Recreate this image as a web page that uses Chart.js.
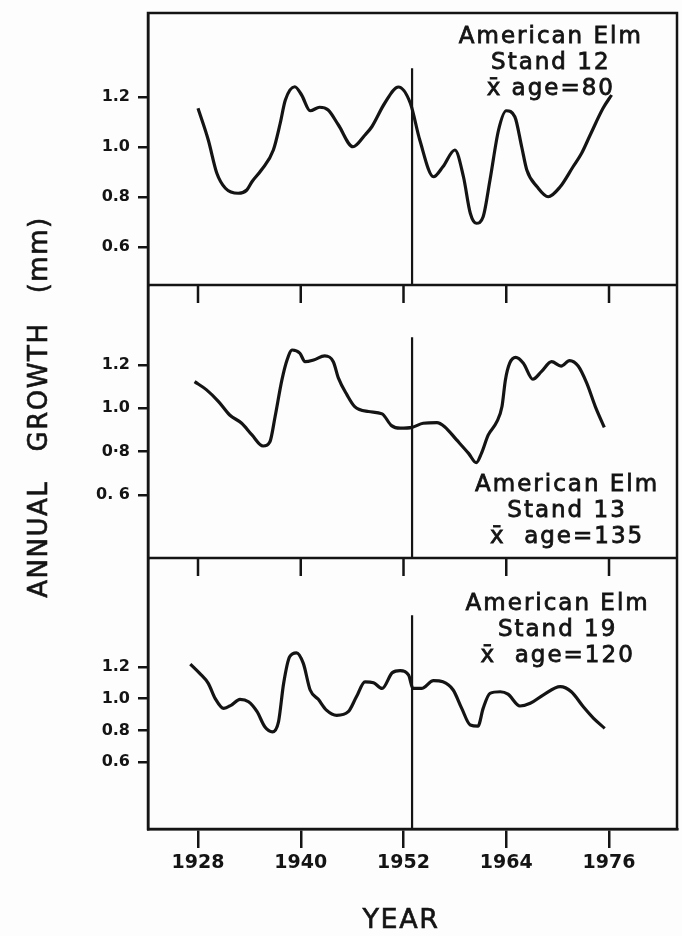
<!DOCTYPE html>
<html>
<head>
<meta charset="utf-8">
<title>American Elm annual growth</title>
<script src="https://cdn.jsdelivr.net/npm/chart.js@4.4.1/dist/chart.umd.min.js"></script>
<style>
  html, body { margin: 0; padding: 0; background: #fdfdfd; }
  #wrap { position: relative; width: 682px; height: 936px; }
</style>
</head>
<body>
<div id="wrap"><canvas id="growthChart" width="682" height="936"></canvas></div>
<script>
// smoothed ring-width curves, one per stand (year, mm)
const stand12Years = [1928.0, 1929.2, 1930.2, 1931.2, 1932.7, 1933.7, 1934.3, 1935.4, 1936.8, 1937.6,
  1938.2, 1939.3, 1940.1, 1941.1, 1942.2, 1943.2, 1944.4, 1946.1, 1947.5, 1948.3, 1949.8, 1951.4,
  1952.8, 1953.9, 1955.5, 1956.6, 1958.0, 1959.0, 1959.8, 1960.5, 1961.3, 1962.1, 1963.1, 1964.0,
  1965.0, 1965.8, 1966.4, 1967.6, 1968.9, 1970.3, 1971.8, 1972.8, 1973.8, 1975.3, 1976.3];
const stand12Growth = [1.155, 1.028, 0.895, 0.835, 0.815, 0.828, 0.861, 0.908, 0.988, 1.095,
  1.188, 1.241, 1.208, 1.145, 1.159, 1.148, 1.088, 1.001, 1.048, 1.081, 1.175, 1.240,
  1.175, 1.028, 0.881, 0.921, 0.988, 0.881, 0.735, 0.695, 0.721, 0.868, 1.068, 1.145,
  1.121, 1.001, 0.908, 0.841, 0.801, 0.841, 0.921, 0.975, 1.048, 1.155, 1.208];

const stand13Years = [1927.6, 1929.0, 1930.4, 1931.7, 1933.1, 1934.3, 1935.6, 1936.4, 1937.0, 1937.8,
  1938.4, 1939.0, 1939.9, 1940.5, 1941.5, 1942.8, 1943.8, 1944.4, 1945.4, 1946.3, 1947.9, 1949.5,
  1950.6, 1951.6, 1953.0, 1954.3, 1955.9, 1956.8, 1958.2, 1959.6, 1960.5, 1961.1, 1961.9, 1962.9,
  1963.5, 1963.9, 1964.4, 1965.1, 1966.0, 1967.1, 1968.1, 1969.3, 1970.4, 1971.4, 1972.4, 1973.4,
  1974.4, 1975.45];
const stand13Growth = [1.123, 1.085, 1.031, 0.969, 0.931, 0.877, 0.826, 0.846, 0.961, 1.131,
  1.223, 1.269, 1.254, 1.215, 1.223, 1.242, 1.215, 1.139, 1.062, 1.008, 0.985, 0.974,
  0.920, 0.908, 0.912, 0.931, 0.934, 0.915, 0.854, 0.792, 0.749, 0.792, 0.877, 0.938,
  1.008, 1.131, 1.208, 1.235, 1.208, 1.134, 1.169, 1.215, 1.195, 1.220, 1.195, 1.116,
  1.008, 0.912];

const stand19Years = [1927.1, 1928.2, 1929.2, 1930.0, 1931.0, 1931.9, 1932.9, 1933.9, 1934.9, 1935.8,
  1936.7, 1937.4, 1938.0, 1938.7, 1939.5, 1940.3, 1941.1, 1942.05, 1943.0, 1944.2, 1945.55, 1946.5,
  1947.5, 1948.5, 1949.5, 1950.7, 1951.6, 1952.6, 1953.1, 1954.1, 1955.5, 1956.6, 1957.8, 1958.8,
  1959.8, 1960.7, 1961.3, 1962.1, 1963.3, 1964.2, 1965.6, 1966.8, 1968.3, 1970.3, 1971.6, 1973.0,
  1974.2, 1975.5];
const stand19Growth = [1.219, 1.160, 1.097, 1.002, 0.939, 0.960, 0.996, 0.981, 0.918, 0.823,
  0.791, 0.854, 1.097, 1.265, 1.290, 1.223, 1.055, 0.996, 0.928, 0.895, 0.918, 1.012,
  1.107, 1.101, 1.065, 1.165, 1.177, 1.149, 1.065, 1.065, 1.114, 1.107, 1.055, 0.939,
  0.834, 0.827, 0.939, 1.034, 1.044, 1.029, 0.954, 0.971, 1.023, 1.076, 1.044, 0.949,
  0.876, 0.813];

const yearTicks = [1928, 1940, 1952, 1964, 1976];
const growthTicks = [1.2, 1.0, 0.8, 0.6];
const growthTickLabels = [
  ['1.2', '1.0', '0.8', '0.6'],
  ['1.2', '1.0', '0·8', '0. 6'],
  ['1.2', '1.0', '0.8', '0.6']
];
const standNotes = [
  ['American Elm', 'Stand 12', 'x\u0304 age=80'],
  ['American Elm', 'Stand 13', 'x\u0304  age=135'],
  ['American Elm', 'Stand 19', 'x\u0304  age=120']
];
// the vertical marker year and how high it rises in each panel
const dividerYear = 1953;
const dividerTop = [1.315, 1.328, 1.528];
const yTitle = 'ANNUAL   GROWTH   (mm)';
const xTitle = 'YEAR';

const ink = '#141414';
const face = 'DejaVu Sans, sans-serif';

// panel layout: axis range, share of the plot height, where the label block sits
const panels = [
  { id: 'yA', years: stand12Years, growth: stand12Growth, min: 0.448, max: 1.536, weight: 272, noteAt: [1969.2, 1.438] },
  { id: 'yB', years: stand13Years, growth: stand13Growth, min: 0.309, max: 1.569, weight: 273, noteAt: [1971.1, 0.646] },
  { id: 'yC', years: stand19Years, growth: stand19Growth, min: 0.177, max: 1.889, weight: 271, noteAt: [1970.0, 1.598] }
];

const scales = {
  x: {
    type: 'linear',
    position: 'bottom',
    min: 1922.16,
    max: 1983.94,
    afterBuildTicks: s => { s.ticks = yearTicks.map(v => ({ value: v })); },
    afterFit: s => { s.height = 107; },
    ticks: {
      callback: v => String(v),
      font: { family: face, size: 19, weight: 'bold' },
      color: ink,
      padding: 4,
      maxRotation: 0,
      autoSkip: false
    },
    grid: { drawOnChartArea: false, tickLength: 19, color: ink, lineWidth: 2.5 },
    border: { display: true, color: ink, width: 2.5 }
  }
};

// left axes stack bottom-up in the order they are declared, so add the lowest panel first
for (let i = panels.length - 1; i >= 0; i--) {
  const p = panels[i];
  scales[p.id] = {
    type: 'linear',
    position: 'left',
    stack: 'panels',
    stackWeight: p.weight,
    min: p.min,
    max: p.max,
    afterBuildTicks: s => { s.ticks = growthTicks.map(v => ({ value: v })); },
    afterFit: s => {
      s.width = 148;
      // no tick sits on a panel edge, so no room is needed for label overhang
      s.paddingTop = 0;
      s.paddingBottom = 0;
    },
    ticks: {
      callback: (v, idx) => growthTickLabels[i][idx],
      font: { family: face, size: 16, weight: 'bold' },
      color: ink,
      padding: 8,
      autoSkip: false
    },
    grid: { drawOnChartArea: false, tickLength: 10, color: ink, lineWidth: 2.5 },
    border: { display: true, color: ink, width: 2.5 }
  };
}

const datasets = [];
panels.forEach((p, i) => {
  datasets.push({
    label: standNotes[i][1],
    yAxisID: p.id,
    data: p.years.map((yr, k) => ({ x: yr, y: p.growth[k] })),
    borderColor: ink,
    borderWidth: 3.2,
    pointRadius: 0,
    cubicInterpolationMode: 'monotone',
    fill: false
  });
  datasets.push({
    label: 'divider ' + (i + 1),
    yAxisID: p.id,
    data: [{ x: dividerYear, y: dividerTop[i] }, { x: dividerYear, y: p.min }],
    borderColor: ink,
    borderWidth: 2.2,
    pointRadius: 0,
    fill: false
  });
});

// filled text with a thin outline so it reads like pen lettering
function letter(ctx, text, x, y) {
  ctx.fillText(text, x, y);
  ctx.strokeText(text, x, y);
}

// frame, panel separators, inner year ticks and the lettering
const panelDecor = {
  id: 'panelDecor',
  afterDatasetsDraw(chart) {
    const { ctx, chartArea: area } = chart;
    const xs = chart.scales.x;
    ctx.save();
    ctx.strokeStyle = ink;
    ctx.fillStyle = ink;
    ctx.lineWidth = 2.5;
    ctx.strokeRect(area.left, area.top, area.right - area.left, area.bottom - area.top);

    panels.forEach((p, i) => {
      const ys = chart.scales[p.id];
      if (i > 0) {
        ctx.lineWidth = 2.5;
        ctx.beginPath();
        ctx.moveTo(area.left, ys.top);
        ctx.lineTo(area.right, ys.top);
        yearTicks.forEach(v => {
          const px = xs.getPixelForValue(v);
          ctx.moveTo(px, ys.top);
          ctx.lineTo(px, ys.top + 18);
        });
        ctx.stroke();
      }
      const cx = xs.getPixelForValue(p.noteAt[0]);
      const cy = ys.getPixelForValue(p.noteAt[1]);
      ctx.font = '23px ' + face;
      ctx.letterSpacing = '2px';
      ctx.lineWidth = 0.8;
      ctx.textAlign = 'center';
      ctx.textBaseline = 'middle';
      standNotes[i].forEach((line, k) => letter(ctx, line, cx, cy + k * 26));
    });

    ctx.font = '26px ' + face;
    ctx.letterSpacing = '1.5px';
    ctx.lineWidth = 0.6;
    ctx.textAlign = 'center';
    ctx.textBaseline = 'middle';
    ctx.save();
    ctx.translate(40, 407);
    ctx.rotate(-Math.PI / 2);
    letter(ctx, yTitle, 0, 0);
    ctx.restore();

    ctx.font = '27px ' + face;
    letter(ctx, xTitle, 401, 921);
    ctx.restore();
  }
};

new Chart(document.getElementById('growthChart'), {
  type: 'line',
  data: { datasets },
  options: {
    responsive: false,
    animation: false,
    devicePixelRatio: 1,
    layout: { padding: { top: 13, right: 5, left: 0, bottom: 0 } },
    plugins: { legend: { display: false }, tooltip: { enabled: false } },
    scales
  },
  plugins: [panelDecor]
});
</script>
</body>
</html>
